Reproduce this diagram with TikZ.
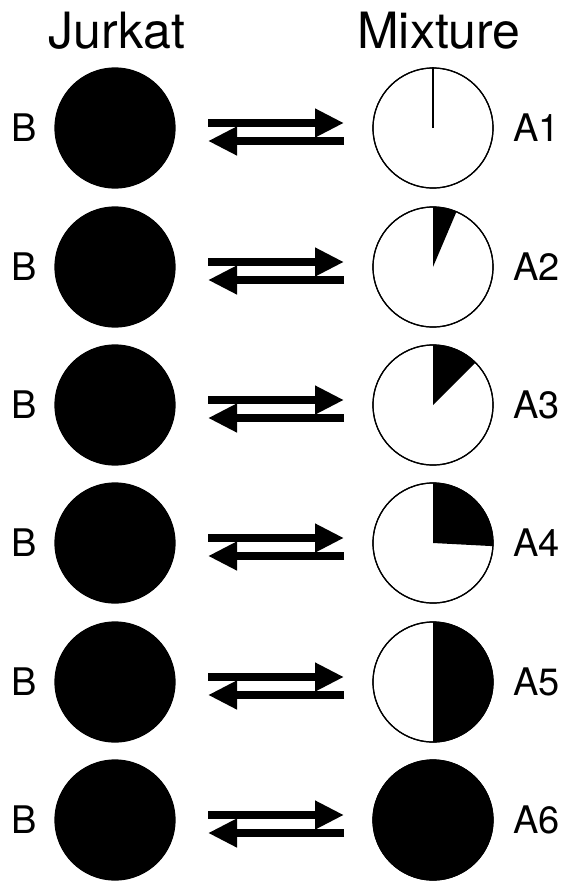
\documentclass[tikz,border=0pt]{standalone}
\usepackage{fontspec}
\setmainfont{TeX Gyre Heros}
\usetikzlibrary{arrows.meta}
\begin{document}
\begin{tikzpicture}[x=1pt,y=-1pt,
  cell/.style={circle,inner sep=0pt,minimum size=120pt,line width=1.2pt},
  full/.style={cell,fill=black,draw=black},
  open/.style={cell,draw=black,fill=white},
  head/.style={font=\fontsize{50}{52}\selectfont,anchor=base,inner sep=0pt},
  lab/.style={font=\fontsize{38}{40}\selectfont,anchor=base,inner sep=0pt},
  eqarrow/.style={line width=8pt,-{Triangle[length=29pt,width=27pt]}}]
\useasboundingbox (0,0) rectangle (562,881);
\node[head] (hj) at (117,48) {Jurkat};
\node[head] (hm) at (439,48) {Mixture};
\foreach \i/\c/\p in {1/128/0,2/267/23,3/405/45,4/543/93,5/682/180,6/820/360}{
  \node[full] (L\i) at (115,\c) {};
  \node[open] (R\i) at (433,\c) {};
  \node[lab] (B\i) at (24,\c+13) {B};
  \node[lab,anchor=base west] (A\i) at (513,\c+13) {A\i};
  \coordinate (p\i) at (208,\c-5);
  \coordinate (q\i) at (344,\c-5);
  \coordinate (r\i) at (344,\c+13);
  \coordinate (s\i) at (208,\c+13);
  \draw[eqarrow] (p\i) -- (q\i);
  \draw[eqarrow] (r\i) -- (s\i);
}
\draw[line width=2pt] (R1.center) -- (R1.north);
\fill (R2.center) -- ++(90:60pt) arc[start angle=90,end angle=67,radius=60pt] -- cycle;
\fill (R3.center) -- ++(90:60pt) arc[start angle=90,end angle=45,radius=60pt] -- cycle;
\fill (R4.center) -- ++(90:60pt) arc[start angle=90,end angle=-3,radius=60pt] -- cycle;
\fill (R5.center) -- ++(90:60pt) arc[start angle=90,end angle=-90,radius=60pt] -- cycle;
\fill (R6.center) circle[radius=60pt];
\foreach \i in {1,...,6}{\draw[line width=1.2pt] (R\i.center) circle[radius=60pt];}
\end{tikzpicture}
\end{document}
